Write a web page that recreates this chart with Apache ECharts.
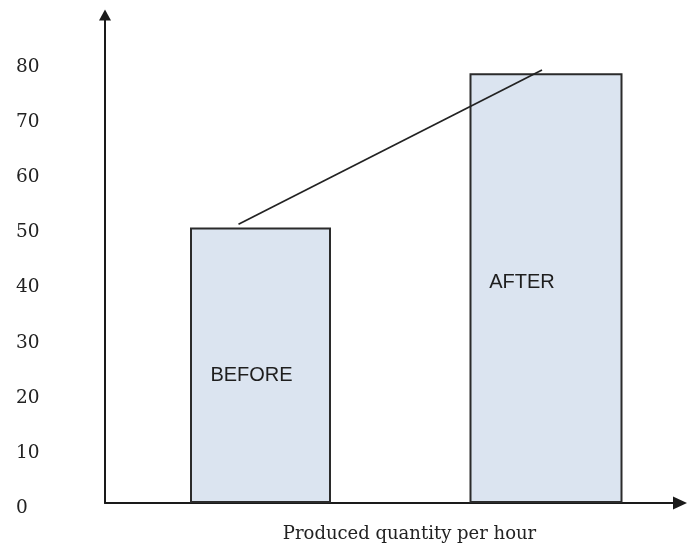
<!DOCTYPE html>
<html>
<head>
<meta charset="utf-8">
<script src="https://cdn.jsdelivr.net/npm/echarts@6/dist/echarts.min.js"></script>
<style>
html,body{margin:0;padding:0;background:#fff;}
#chart{width:694px;height:545px;}
</style>
</head>
<body>
<div id="chart"></div>
<script>
// ---- data ----
var categories = ['BEFORE', 'AFTER'];
var beforeValues = [50, '-'];
var afterValues = ['-', 78];
// trend line, x in category-index units, y in value units
var trendX = [-0.077, 0.986];
var trendY = [50.6, 78.6];
var yTicks = [0, 10, 20, 30, 40, 50, 60, 70, 80];
var xTitle = 'Produced quantity per hour';

var pxPerUnit = 5.51;
var chart = echarts.init(document.getElementById('chart'), null, {renderer: 'canvas'});
var axisColor = '#1a1a1a';
var hidden = {axisLine: {show: false}, axisTick: {show: false}, axisLabel: {show: false}, splitLine: {show: false}};

var option = {
  animation: false,
  backgroundColor: '#ffffff',
  grid: [
    {left: 105, right: 14, top: 15, bottom: 42, containLabel: false, outerBoundsMode: 'none'},
    {left: 117.75, width: 571, top: 15, bottom: 42, containLabel: false, outerBoundsMode: 'none'}
  ],
  xAxis: [
    {
      gridIndex: 0, type: 'value', min: 0, max: 1,
      axisLine: {show: true, lineStyle: {color: axisColor, width: 2}, symbol: ['none', 'triangle'], symbolSize: [13, 14]},
      axisTick: {show: false}, axisLabel: {show: false}, splitLine: {show: false},
      name: xTitle, nameLocation: 'middle', nameGap: 22,
      nameTextStyle: {fontFamily: 'DejaVu Serif', fontSize: 18, color: '#222', padding: [0, 0, 0, 34]}
    },
    Object.assign({gridIndex: 1, type: 'category', data: categories}, hidden),
    Object.assign({gridIndex: 1, type: 'value', min: -0.5, max: 1.5}, hidden),
    Object.assign({gridIndex: 1, type: 'category', data: categories}, hidden)
  ],
  yAxis: [
    {
      gridIndex: 0, type: 'value', min: 0, max: 488 / pxPerUnit, interval: 10,
      axisLine: {show: true, lineStyle: {color: axisColor, width: 2}, symbol: ['none', 'triangle'], symbolSize: [12, 11]},
      axisTick: {show: false}, splitLine: {show: false},
      axisLabel: {
        show: true, align: 'left', margin: 89, verticalAlign: 'top', lineHeight: 10,
        fontFamily: 'DejaVu Serif', fontSize: 18.5, color: '#222',
        formatter: function (v) { return yTicks.indexOf(v) >= 0 ? String(v) : ''; }
      }
    },
    Object.assign({gridIndex: 1, type: 'value', min: 0, max: 488 / pxPerUnit}, hidden)
  ],
  series: [
    {
      type: 'bar', xAxisIndex: 1, yAxisIndex: 1, data: beforeValues, barWidth: 141,
      itemStyle: {color: '#dbe4f0', borderColor: '#2b2b2b', borderWidth: 2},
      label: {show: true, position: 'inside', offset: [-9, 10], formatter: function () { return categories[0]; },
        fontFamily: 'Liberation Sans', fontSize: 20, color: '#1e1e1e'}
    },
    {
      type: 'bar', xAxisIndex: 3, yAxisIndex: 1, data: afterValues, barWidth: 153,
      itemStyle: {color: '#dbe4f0', borderColor: '#2b2b2b', borderWidth: 2},
      label: {show: true, position: 'inside', offset: [-24, -6], formatter: function () { return categories[1]; },
        fontFamily: 'Liberation Sans', fontSize: 20, color: '#1e1e1e'}
    },
    {
      type: 'line', xAxisIndex: 2, yAxisIndex: 1,
      data: trendX.map(function (x, i) { return [x, trendY[i]]; }),
      showSymbol: false, symbol: 'none',
      lineStyle: {color: '#222', width: 1.7},
      z: 5
    }
  ]
};
chart.setOption(option);
</script>
</body>
</html>
